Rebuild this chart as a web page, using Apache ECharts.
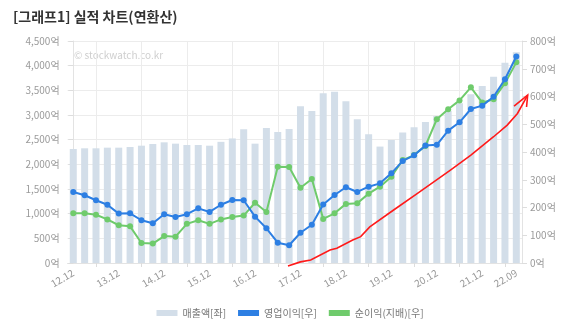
<!DOCTYPE html>
<html>
<head>
<meta charset="utf-8">
<script src="https://cdn.jsdelivr.net/npm/echarts@6/dist/echarts.min.js"></script>
<style>
  html, body { margin: 0; padding: 0; background: #fff; }
  #chart { width: 580px; height: 326px; }
</style>
</head>
<body>
<div id="chart"></div>
<script>
// Quarterly periods (annualised figures)
const quarters = [
  '12.12',
  '13.03', '13.06', '13.09', '13.12',
  '14.03', '14.06', '14.09', '14.12',
  '15.03', '15.06', '15.09', '15.12',
  '16.03', '16.06', '16.09', '16.12',
  '17.03', '17.06', '17.09', '17.12',
  '18.03', '18.06', '18.09', '18.12',
  '19.03', '19.06', '19.09', '19.12',
  '20.03', '20.06', '20.09', '20.12',
  '21.03', '21.06', '21.09', '21.12',
  '22.03', '22.06', '22.09'
];

// 매출액 (left axis, 억)
const sales = [
  2311,
  2325, 2325, 2338, 2338,
  2351, 2378, 2412, 2446,
  2419, 2392, 2392, 2378,
  2456, 2525, 2710, 2419,
  2737, 2655, 2716, 3176,
  3081, 3440, 3473, 3277,
  2916, 2610, 2360, 2493,
  2645, 2750, 2858, 2980,
  3088, 3237, 3419, 3588,
  3777, 4061, 4271
];

// 영업이익 (right axis, 억)
const opProfit = [
  256,
  244, 226, 210, 178,
  179, 154, 143, 176,
  166, 176, 197, 184,
  210, 227, 226, 167,
  125, 73, 64, 109,
  138, 211, 245, 273,
  256, 275, 287, 323,
  368, 388, 423, 426,
  477, 507, 555, 567,
  599, 662, 744
];

// 순이익(지배) (right axis, 억)
const netProfit = [
  179,
  179, 174, 157, 136,
  132, 72, 70, 97,
  95, 141, 154, 141,
  157, 166, 171, 217,
  184, 347, 346, 271,
  303, 159, 179, 213,
  215, 250, 275, 311,
  371, 389, 422, 518,
  554, 586, 633, 578,
  590, 648, 723
];

// Hand-drawn trend arrow: [quarter index, 억 on right axis]
const trendPath = [
  [18.9, -11], [20.0, 4], [20.9, 11], [22.6, 47], [23.2, 53], [24.6, 83],
  [25.3, 95], [26.1, 130], [28.2, 191], [30.3, 251], [33.2, 335],
  [35.0, 389], [37.0, 455], [38.2, 497], [39.1, 539], [40.0, 605]
];
const trendHead = [[38.8, 565], [40.0, 605], [39.9, 562]];

const leftMax = 4500, leftStep = 500;
const rightMax = 800, rightStep = 100;

const labelColor = '#9a9a9a';
const gridColor = '#ececec';
const font = '"Noto Sans CJK KR", "Noto Sans", sans-serif';

const fmt = v => v.toLocaleString('en-US') + '억';
const labelIdx = i => i % 4 === 0 || i === quarters.length - 1;
const tickIdx = i => i % 4 === 2;

const chart = echarts.init(document.getElementById('chart'), null, { renderer: 'canvas' });

chart.setOption({
  animation: false,
  textStyle: { fontFamily: font },
  title: {
    text: '[그래프1] 실적 차트(연환산)',
    left: 8,
    top: 5,
    textStyle: { fontFamily: font, fontSize: 14, fontWeight: 'bold', color: '#333' }
  },
  graphic: [{
    type: 'text',
    left: 74,
    top: 50,
    style: { text: '© stockwatch.co.kr', fill: '#cfcfcf', fontSize: 10, fontFamily: font }
  }],
  legend: {
    bottom: 3,
    left: 'center',
    icon: 'rect',
    itemWidth: 21,
    itemHeight: 6,
    itemGap: 12,
    textStyle: { color: '#777', fontSize: 10, fontFamily: font },
    data: ['매출액[좌]', '영업이익[우]', '순이익(지배)[우]']
  },
  grid: { left: 67.6, right: 58, top: 41, bottom: 63, containLabel: false },
  xAxis: [{
    type: 'category',
    data: quarters,
    boundaryGap: true,
    axisLine: { show: true, lineStyle: { color: '#e3e3e3' } },
    axisTick: { show: true, alignWithLabel: true, interval: tickIdx, length: 4, lineStyle: { color: '#ddd' } },
    splitLine: { show: true, alignWithLabel: true, interval: tickIdx, lineStyle: { color: gridColor } },
    axisLabel: {
      interval: labelIdx,
      rotate: 30,
      margin: 9,
      color: labelColor,
      fontSize: 10,
      fontFamily: font
    }
  }, {
    type: 'value',
    min: -0.5,
    max: quarters.length - 0.5,
    show: false
  }],
  yAxis: [{
    type: 'value',
    min: 0,
    max: leftMax,
    interval: leftStep,
    axisLine: { show: true, lineStyle: { color: '#e3e3e3' } },
    axisTick: { show: true, length: 5, lineStyle: { color: '#ddd' } },
    splitLine: { show: true, lineStyle: { color: gridColor } },
    axisLabel: { formatter: fmt, color: labelColor, fontSize: 10, margin: 8, fontFamily: font }
  }, {
    type: 'value',
    min: 0,
    max: rightMax,
    interval: rightStep,
    axisLine: { show: true, lineStyle: { color: '#e3e3e3' } },
    axisTick: { show: true, length: 5, lineStyle: { color: '#ddd' } },
    splitLine: { show: false },
    axisLabel: { formatter: fmt, color: labelColor, fontSize: 10, margin: 8, fontFamily: font }
  }],
  series: [{
    name: '매출액[좌]',
    type: 'bar',
    xAxisIndex: 0,
    yAxisIndex: 0,
    data: sales,
    barWidth: 7,
    itemStyle: { color: '#d3dee9' }
  }, {
    name: '영업이익[우]',
    type: 'line',
    xAxisIndex: 0,
    yAxisIndex: 1,
    data: opProfit,
    symbol: 'circle',
    symbolSize: 6,
    lineStyle: { width: 2, color: '#2d7fe3' },
    itemStyle: { color: '#2d7fe3' },
    z: 4
  }, {
    name: '순이익(지배)[우]',
    type: 'line',
    xAxisIndex: 0,
    yAxisIndex: 1,
    data: netProfit,
    symbol: 'circle',
    symbolSize: 6,
    lineStyle: { width: 2, color: '#6fcb6c' },
    itemStyle: { color: '#6fcb6c' },
    z: 3
  }, {
    type: 'lines',
    coordinateSystem: 'cartesian2d',
    xAxisIndex: 1,
    yAxisIndex: 1,
    polyline: true,
    clip: false,
    silent: true,
    lineStyle: { color: '#ff1a1a', width: 1.6, opacity: 1 },
    data: [{ coords: trendPath }, { coords: trendHead }],
    z: 5
  }]
});
</script>
</body>
</html>
